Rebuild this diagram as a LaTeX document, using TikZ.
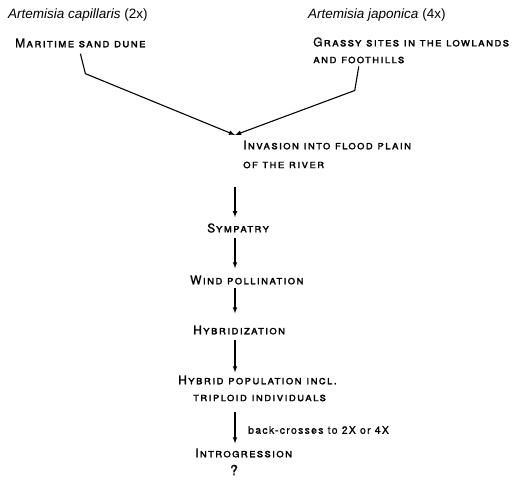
\documentclass[tikz,border=0pt]{standalone}
\usepackage{fontspec}
\setmainfont{Liberation Sans}
\newfontfamily\plotter[LetterSpace=10,FakeBold=1.2]{TeX Gyre Heros}
\newfontfamily\plotlower[LetterSpace=12,FakeBold=0.8]{TeX Gyre Heros}

\begin{document}
\begin{tikzpicture}[x=1pt,y=-1pt,
    species/.style={anchor=west,inner sep=0pt,font=\fontsize{13.5}{15}\selectfont},
    stage/.style={anchor=west,inner sep=0pt,font=\fontsize{12}{14}\plotter\scshape},
    note/.style={anchor=west,inner sep=0pt,font=\fontsize{10.5}{12}\plotlower},
    flow/.style={-latex,line width=1.1pt,shorten <=5pt,shorten >=5pt},
    feed/.style={-latex,line width=1.1pt}]
    \useasboundingbox (0,0) rectangle (530,483);

    \node[species] (capt) at (8,15) {\textit{Artemisia capillaris} (2x)};
    \node[stage] (dune) at (15,43) {Maritime sand dune};
    \node[species] (japt) at (308,15) {\textit{Artemisia japonica} (4x)};
    \node[stage] (grass) at (313,42) {Grassy sites in the lowlands};
    \node[stage] (foot) at (313,60) {and foothills};

    \coordinate (vpt) at (235,135);
    \draw[feed] ([yshift=-6pt]dune.south) -- ++(5,20) -- (vpt);
    \draw[feed] ([yshift=-3pt]foot.south) -- ++(-4,24) -- (vpt);

    \node[stage] (inv) at (243,145) {Invasion into flood plain};
    \node[stage] (river) at (243,165) {of the river};
    \node[stage] (symp) at (207,228) {Sympatry};
    \node[stage] (wind) at (190,280) {Wind pollination};
    \node[stage] (hyb) at (193,330) {Hybridization};
    \node[stage] (hpop) at (178,380) {Hybrid population incl.};
    \node[stage] (trip) at (193,398) {triploid individuals};
    \node[note] (back) at (248,430) {back-crosses to 2X or 4X};
    \node[stage] (intro) at (195,453) {Introgression};
    \node[anchor=center,inner sep=0pt,font=\fontsize{14}{16}\plotlower] (qm) at (234,470) {?};

    \draw[flow,shorten <=18pt,shorten >=6pt] (river.south -| vpt) -- (symp.north -| vpt);
    \draw[flow,shorten >=7pt] (symp.south -| vpt) -- (wind.north -| vpt);
    \draw[flow,shorten <=3pt,shorten >=12pt] (wind.south -| vpt) -- (hyb.north -| vpt);
    \draw[flow,shorten >=3pt] (hyb.south -| vpt) -- (hpop.north -| vpt);
    \draw[flow,shorten <=10pt] (trip.south -| vpt) -- (intro.north -| vpt);

  \end{tikzpicture}
\end{document}
